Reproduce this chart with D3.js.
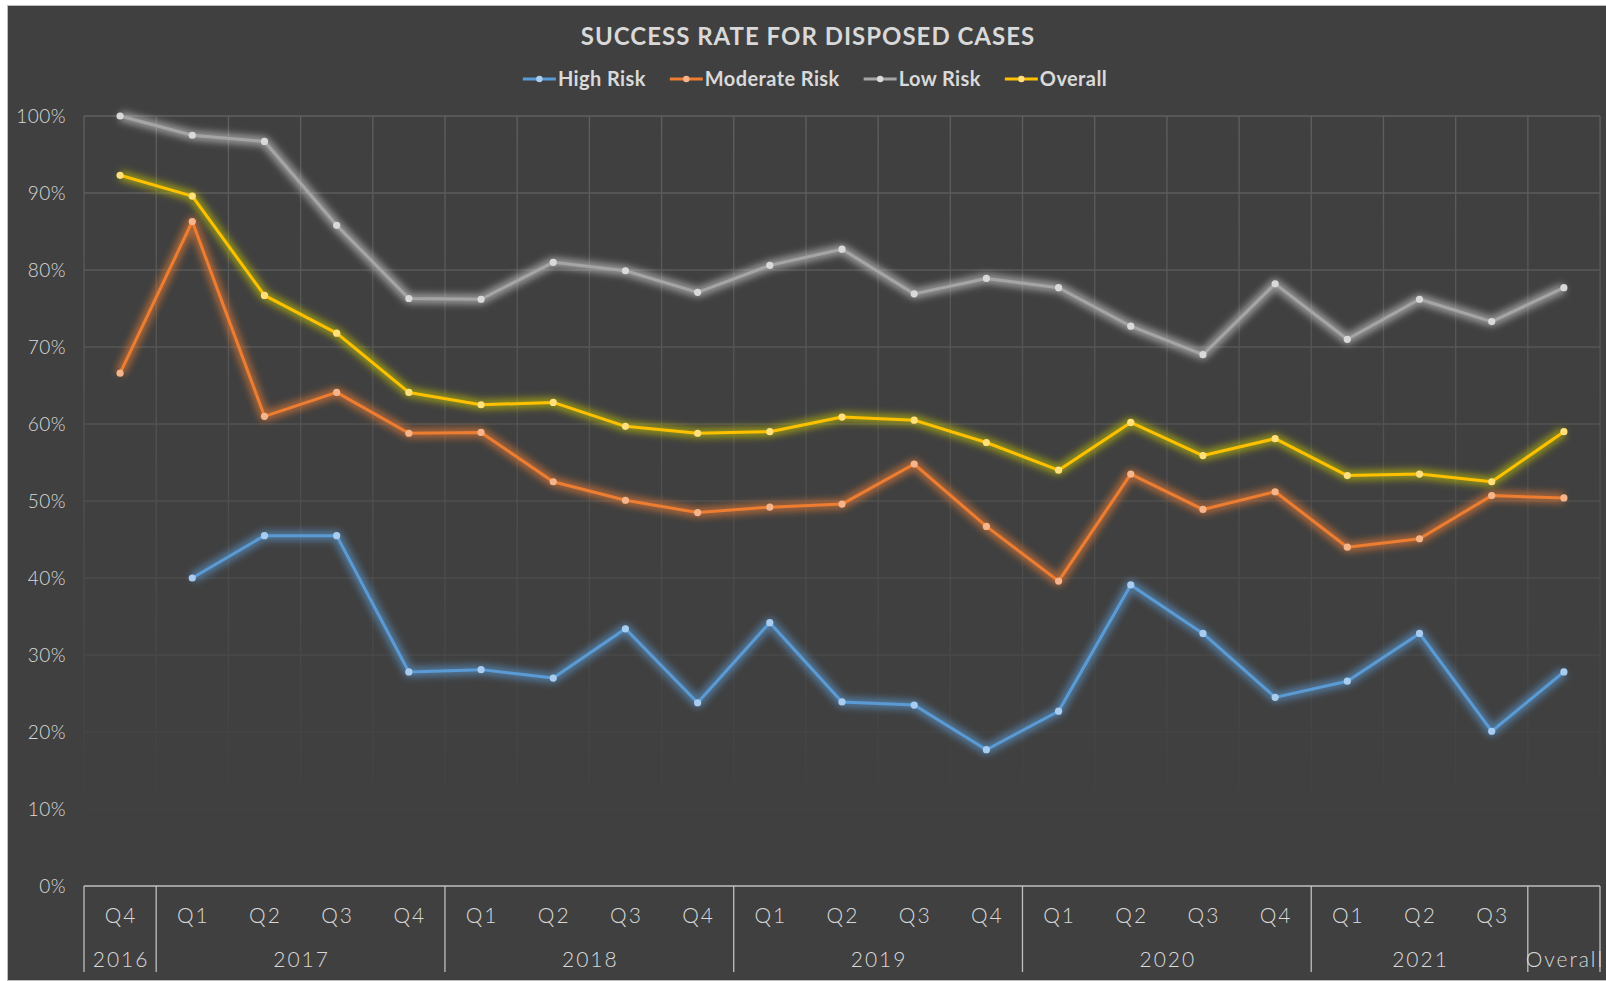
<!DOCTYPE html>
<html>
<head>
<meta charset="utf-8">
<script src="https://cdn.jsdelivr.net/npm/d3@7"></script>
<style>
  body { margin: 0; background: #ffffff; }
  svg { display: block; font-family: Lato, "Open Sans", sans-serif; }
</style>
</head>
<body>
<svg id="chart" width="1606" height="981"></svg>
<script>
// quarters, grouped by year
var quarters = ["Q4", "Q1", "Q2", "Q3", "Q4", "Q1", "Q2", "Q3", "Q4", "Q1", "Q2", "Q3", "Q4",
                "Q1", "Q2", "Q3", "Q4", "Q1", "Q2", "Q3", ""];
var years = [
  {label: "2016", start: 0, end: 1},
  {label: "2017", start: 1, end: 5},
  {label: "2018", start: 5, end: 9},
  {label: "2019", start: 9, end: 13},
  {label: "2020", start: 13, end: 17},
  {label: "2021", start: 17, end: 20},
  {label: "Overall", start: 20, end: 21}
];
var highRisk = [null, 40.0, 45.5, 45.5, 27.8, 28.1, 27.0, 33.4, 23.8, 34.2, 23.9, 23.5, 17.7,
                22.7, 39.1, 32.8, 24.5, 26.6, 32.8, 20.1, 27.8];
var moderateRisk = [66.6, 86.3, 61.0, 64.1, 58.8, 58.9, 52.5, 50.1, 48.5, 49.2, 49.6, 54.8, 46.7,
                    39.6, 53.5, 48.9, 51.2, 44.0, 45.1, 50.7, 50.4];
var lowRisk = [100, 97.5, 96.7, 85.8, 76.3, 76.2, 81.0, 79.9, 77.1, 80.6, 82.7, 76.9, 78.9,
               77.7, 72.7, 69.0, 78.2, 71.0, 76.2, 73.3, 77.7];
var overall = [92.3, 89.6, 76.7, 71.8, 64.1, 62.5, 62.8, 59.7, 58.8, 59.0, 60.9, 60.5, 57.6,
               54.0, 60.2, 55.9, 58.1, 53.3, 53.5, 52.5, 59.0];
var yTicks = [0, 10, 20, 30, 40, 50, 60, 70, 80, 90, 100];

var series = [
  {name: "High Risk", values: highRisk, color: "#5b9bd5", marker: "#a9cdf0", glow: "#5b9bd5"},
  {name: "Moderate Risk", values: moderateRisk, color: "#ed7d31", marker: "#f6b48a", glow: "#ed7d31"},
  {name: "Low Risk", values: lowRisk, color: "#a5a5a5", marker: "#d9d9d9", glow: "#d0d0d0"},
  {name: "Overall", values: overall, color: "#ffc000", marker: "#ffe07a", glow: "#c8c800"}
];

var svg = d3.select("#chart");
var margin = {left: 84, right: 1600, top: 116, bottom: 886};

// chart area
svg.append("rect")
    .attr("x", 7.5).attr("y", 5.5).attr("width", 1610).attr("height", 975)
    .attr("fill", "#404040").attr("stroke", "#bdbdbd").attr("stroke-width", 1);

var x = d3.scaleBand().domain(d3.range(quarters.length))
    .range([margin.left, margin.right]).padding(0);
var y = d3.scaleLinear().domain([0, 100]).range([margin.bottom, margin.top]);

var defs = svg.append("defs");
var grad = defs.append("linearGradient").attr("id", "gridFade")
    .attr("gradientUnits", "userSpaceOnUse")
    .attr("x1", 0).attr("y1", margin.top).attr("x2", 0).attr("y2", 790);
grad.append("stop").attr("offset", "0%").attr("stop-color", "#5f5f5f");
grad.append("stop").attr("offset", "100%").attr("stop-color", "#424242");

defs.append("filter").attr("id", "glow")
    .attr("x", "-10%").attr("y", "-20%").attr("width", "120%").attr("height", "140%")
  .append("feGaussianBlur").attr("stdDeviation", 3.5);

// gridlines
var grid = svg.append("g");
grid.selectAll("line.h").data(yTicks.filter(function(d) { return d > 0; }))
  .enter().append("line")
    .attr("x1", margin.left).attr("x2", margin.right)
    .attr("y1", function(d) { return y(d); }).attr("y2", function(d) { return y(d); })
    .attr("stroke", "url(#gridFade)").attr("stroke-width", 1.3);
grid.selectAll("rect.v").data(d3.range(quarters.length + 1))
  .enter().append("rect")
    .attr("x", function(i) { return margin.left + i * x.bandwidth() - 0.6; })
    .attr("y", margin.top).attr("width", 1.3).attr("height", 790 - margin.top)
    .attr("fill", "url(#gridFade)");

// y axis labels
svg.append("g").selectAll("text").data(yTicks).enter().append("text")
    .attr("x", 66).attr("y", function(d) { return y(d); })
    .attr("dy", "0.35em").attr("text-anchor", "end")
    .attr("fill", "#d9d9d9").attr("font-size", 19).attr("font-weight", 300)
    .attr("letter-spacing", 0.5)
    .text(function(d) { return d + "%"; });

// category axis
var axis = svg.append("g").attr("stroke", "#bfbfbf").attr("stroke-width", 1.3);
axis.append("line").attr("x1", margin.left).attr("x2", margin.right)
    .attr("y1", margin.bottom).attr("y2", margin.bottom);
var seps = [0].concat(years.map(function(d) { return d.end; }));
axis.selectAll("line.sep").data(seps).enter().append("line")
    .attr("x1", function(i) { return margin.left + i * x.bandwidth(); })
    .attr("x2", function(i) { return margin.left + i * x.bandwidth(); })
    .attr("y1", margin.bottom).attr("y2", 972);

svg.append("g").selectAll("text").data(quarters).enter().append("text")
    .attr("x", function(d, i) { return x(i) + x.bandwidth() / 2 + 1; })
    .attr("y", 923).attr("text-anchor", "middle")
    .attr("fill", "#d9d9d9").attr("font-size", 21).attr("font-weight", 300)
    .attr("letter-spacing", 2)
    .text(function(d) { return d; });
svg.append("g").selectAll("text").data(years).enter().append("text")
    .attr("x", function(d) { return margin.left + (d.start + d.end) / 2 * x.bandwidth() + 1; })
    .attr("y", 967).attr("text-anchor", "middle")
    .attr("fill", "#d9d9d9").attr("font-size", 21).attr("font-weight", 300)
    .attr("letter-spacing", 2)
    .text(function(d) { return d.label; });

// lines
var line = d3.line()
    .defined(function(d) { return d != null; })
    .x(function(d, i) { return x(i) + x.bandwidth() / 2; })
    .y(function(d) { return y(d); });

var sg = svg.append("g").selectAll("g").data(series).enter().append("g");
sg.append("path")
    .attr("d", function(s) { return line(s.values); })
    .attr("fill", "none").attr("stroke", function(s) { return s.glow; })
    .attr("stroke-width", 10).attr("stroke-opacity", 0.6)
    .attr("stroke-linejoin", "round").attr("filter", "url(#glow)");
sg.append("path")
    .attr("d", function(s) { return line(s.values); })
    .attr("fill", "none").attr("stroke", function(s) { return s.color; })
    .attr("stroke-width", 3).attr("stroke-linejoin", "round");
sg.each(function(s) {
  d3.select(this).selectAll("circle")
    .data(s.values.map(function(v, i) { return {v: v, i: i}; }).filter(function(d) { return d.v != null; }))
    .enter().append("circle")
      .attr("cx", function(d) { return x(d.i) + x.bandwidth() / 2; })
      .attr("cy", function(d) { return y(d.v); })
      .attr("r", 3.6).attr("fill", s.marker);
});

// title
svg.append("text").attr("x", 808).attr("y", 45).attr("text-anchor", "middle")
    .attr("fill", "#d9d9d9").attr("font-size", 24).attr("font-weight", 700)
    .attr("letter-spacing", 1)
    .text("SUCCESS RATE FOR DISPOSED CASES");

// legend
var legend = svg.append("g");
var lx = 0;
var items = legend.selectAll("g").data(series).enter().append("g");
items.append("line").attr("x1", 0).attr("x2", 33).attr("y1", 79).attr("y2", 79)
    .attr("stroke", function(s) { return s.color; }).attr("stroke-width", 3);
items.append("circle").attr("cx", 16.5).attr("cy", 79).attr("r", 3.2)
    .attr("fill", function(s) { return s.marker; });
items.append("text").attr("x", 35).attr("y", 86)
    .attr("fill", "#d9d9d9").attr("font-size", 20).attr("font-weight", 700)
    .attr("letter-spacing", 0.4)
    .text(function(s) { return s.name; });
items.each(function() {
  d3.select(this).attr("transform", "translate(" + lx + ",0)");
  lx += this.getBBox().width + 24;
});
lx -= 24;
legend.attr("transform", "translate(" + (815 - lx / 2) + ",0)");
</script>
</body>
</html>
